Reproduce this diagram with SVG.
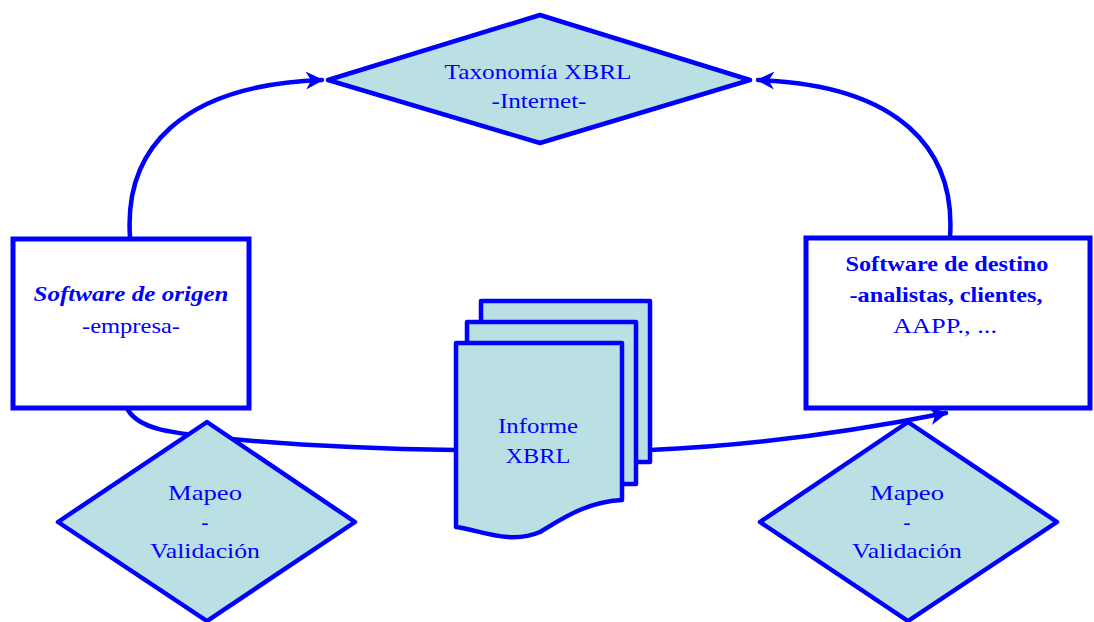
<svg xmlns="http://www.w3.org/2000/svg" width="1094" height="622" viewBox="0 0 1094 622">
<style>
.shape{fill:#bbe0e3;stroke:#0000ff;stroke-width:4.5;stroke-linejoin:round}
.box{fill:#ffffff;stroke:#0000ff;stroke-width:5}
.conn{fill:none;stroke:#0000ff;stroke-width:4.5;stroke-linecap:round}
text{font-family:"Liberation Serif","DejaVu Serif",serif;font-size:22px;fill:#0000ff;text-anchor:middle}
.b{font-weight:bold}
.bi{font-weight:bold;font-style:italic}
</style>
<defs>
<marker id="arr" viewBox="0 0 10 10" refX="9" refY="5" markerWidth="4" markerHeight="4" orient="auto" markerUnits="strokeWidth">
<path d="M0,0 L10,5 L0,10 L3,5 Z" fill="#0000ff"/>
</marker>
</defs>
<rect width="1094" height="622" fill="#ffffff"/>
<g id="connectors">
<path class="conn" d="M130,237 C124,150 180,85 322,80" marker-end="url(#arr)"/>
<path class="conn" d="M950,237 C956,150 900,85 758,80" marker-end="url(#arr)"/>
<path class="conn" d="M128,410 C140,430 175,433 210,437 C300,446 380,449 456,450"/>
<path class="conn" d="M650,450 C750,446 850,432 946,413" marker-end="url(#arr)"/>
</g>
<g id="taxonomia">
<polygon class="shape" points="540,15 750,80 540,143 328,80"/>
<text x="538" y="79" textLength="187" lengthAdjust="spacingAndGlyphs">Taxonomía XBRL</text>
<text x="539" y="108" textLength="95" lengthAdjust="spacingAndGlyphs">-Internet-</text>
</g>
<g id="origen">
<rect class="box" x="13" y="239" width="236" height="169"/>
<text class="bi" x="131" y="301" textLength="195" lengthAdjust="spacingAndGlyphs">Software de origen</text>
<text x="131" y="333" textLength="98" lengthAdjust="spacingAndGlyphs">-empresa-</text>
</g>
<g id="destino">
<rect class="box" x="806" y="238" width="284" height="170"/>
<text class="b" x="947" y="271" textLength="203" lengthAdjust="spacingAndGlyphs">Software de destino</text>
<text class="b" x="946" y="302" textLength="193" lengthAdjust="spacingAndGlyphs">-analistas, clientes,</text>
<text x="945" y="333" textLength="104" lengthAdjust="spacingAndGlyphs">AAPP., ...</text>
</g>
<g id="informe">
<rect class="shape" x="481" y="301" width="169" height="161"/>
<rect class="shape" x="467" y="322" width="169" height="162"/>
<path class="shape" d="M456,343 L622,343 L622,500 C585,502 560,520 540,532 C510,545 480,530 456,527 Z"/>
<text x="538" y="433" textLength="80" lengthAdjust="spacingAndGlyphs">Informe</text>
<text x="538" y="463" textLength="65" lengthAdjust="spacingAndGlyphs">XBRL</text>
</g>
<g id="mapeo-izq">
<polygon class="shape" points="207,422 355,522 207,621 58,522"/>
<text x="205" y="500" textLength="74" lengthAdjust="spacingAndGlyphs">Mapeo</text>
<text x="205" y="529">-</text>
<text x="205" y="558" textLength="110" lengthAdjust="spacingAndGlyphs">Validación</text>
</g>
<g id="mapeo-der">
<polygon class="shape" points="908,422 1057,522 908,621 760,522"/>
<text x="907" y="500" textLength="74" lengthAdjust="spacingAndGlyphs">Mapeo</text>
<text x="907" y="529">-</text>
<text x="907" y="558" textLength="110" lengthAdjust="spacingAndGlyphs">Validación</text>
</g>
</svg>
